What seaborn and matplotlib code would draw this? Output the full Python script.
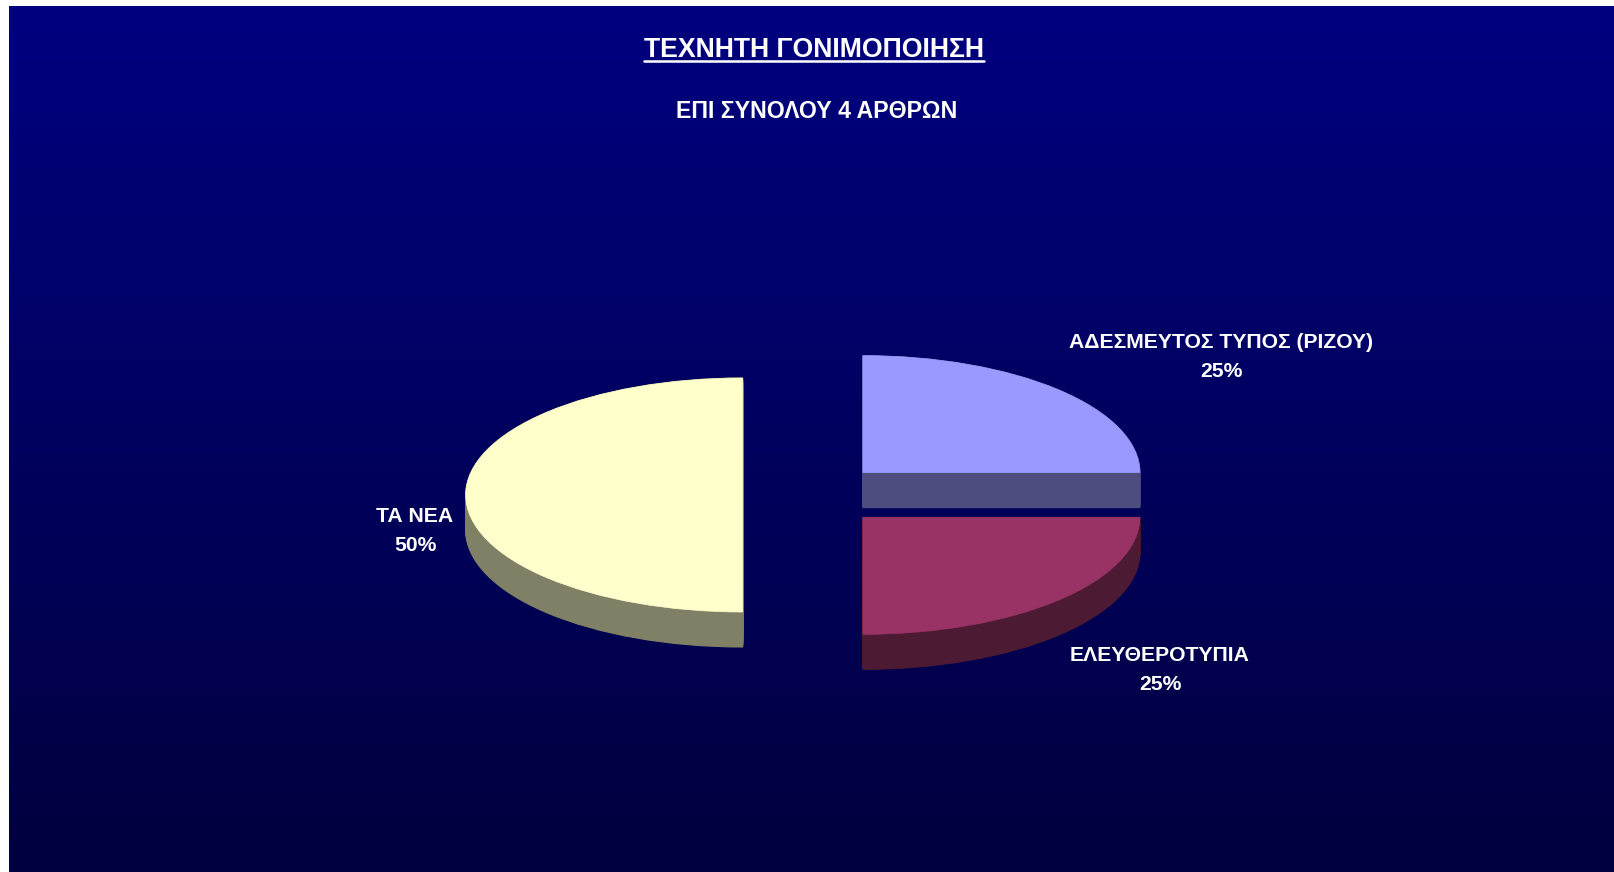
import numpy as np
import matplotlib
matplotlib.use('Agg')
import matplotlib.pyplot as plt
import seaborn as sns
from matplotlib.colors import LinearSegmentedColormap
from matplotlib.lines import Line2D

# data
papers = ['ΑΔΕΣΜΕΥΤΟΣ ΤΥΠΟΣ (ΡΙΖΟΥ)', 'ΕΛΕΥΘΕΡΟΤΥΠΙΑ', 'ΤΑ ΝΕΑ']
shares = [25, 25, 50]
top_colors = ['#9999FF', '#993366', '#FFFFCC']
side_colors = ['#4D4D80', '#4D1A33', '#808066']
explode = [0.27, 0.27, 0.243]

W, H = 1614, 872
sns.set_style('white')
plt.rcParams['font.family'] = ['Liberation Sans', 'DejaVu Sans']

fig = plt.figure(figsize=(W / 100, H / 100), dpi=100, facecolor='white')

# gradient background
bg = fig.add_axes([9 / W, 0, 1 - 9 / W, 1 - 6 / H])
grad = np.linspace(0, 1, 256).reshape(-1, 1)
cmap = LinearSegmentedColormap.from_list('bg', ['#000080', '#00003E'])
bg.imshow(grad, aspect='auto', cmap=cmap, extent=[0, 1, 0, 1], origin='upper')
bg.axis('off')

# pie axes, squashed to look like a tilted 3d pie
cx, cy = 810, 495
rx, ry = 277, 117
ax = fig.add_axes([0, 0, 1, 1])
ax.patch.set_alpha(0)

depth = 35 / ry
for dz in np.linspace(depth, 0, 36):
    wedges, _ = ax.pie(shares, explode=explode, colors=side_colors, startangle=90,
                       counterclock=False, center=(0, -dz))
    for w in wedges:
        w.set_edgecolor(w.get_facecolor())
        w.set_linewidth(0.8)

wedges, _ = ax.pie(shares, explode=explode, colors=top_colors, startangle=90,
                   counterclock=False, center=(0, 0))
for w in wedges:
    w.set_edgecolor(w.get_facecolor())
    w.set_linewidth(0.5)

ax.set_aspect('auto')
ax.set_xlim(-cx / rx, (W - cx) / rx)
ax.set_ylim(-(H - cy) / ry, cy / ry)
ax.axis('off')


def px(x, y):
    return x / W, 1 - y / H


label_pos = [(1221, 357), (1160, 670), (415, 531)]
for name, val, (x, y) in zip(papers, shares, label_pos):
    fig.text(*px(x, y), f'{name}\n{val}%', color='white', fontsize=15.2, fontweight='bold',
             ha='center', va='center', linespacing=1.62)

title = fig.text(*px(814, 50), 'ΤΕΧΝΗΤΗ ΓΟΝΙΜΟΠΟΙΗΣΗ', color='white', fontsize=19.2,
                 fontweight='bold', ha='center', va='center')
fig.text(*px(817, 112), 'ΕΠΙ ΣΥΝΟΛΟΥ 4 ΑΡΘΡΩΝ', color='white', fontsize=16.7,
         fontweight='bold', ha='center', va='center')

# underline title
fig.canvas.draw()
bb = title.get_window_extent()
uy = 1 - 61.5 / H
fig.add_artist(Line2D([bb.x0 / W, bb.x1 / W], [uy, uy], color='white', linewidth=1.8,
                      transform=fig.transFigure))

fig.savefig('out.png', dpi=100, facecolor=fig.get_facecolor())
